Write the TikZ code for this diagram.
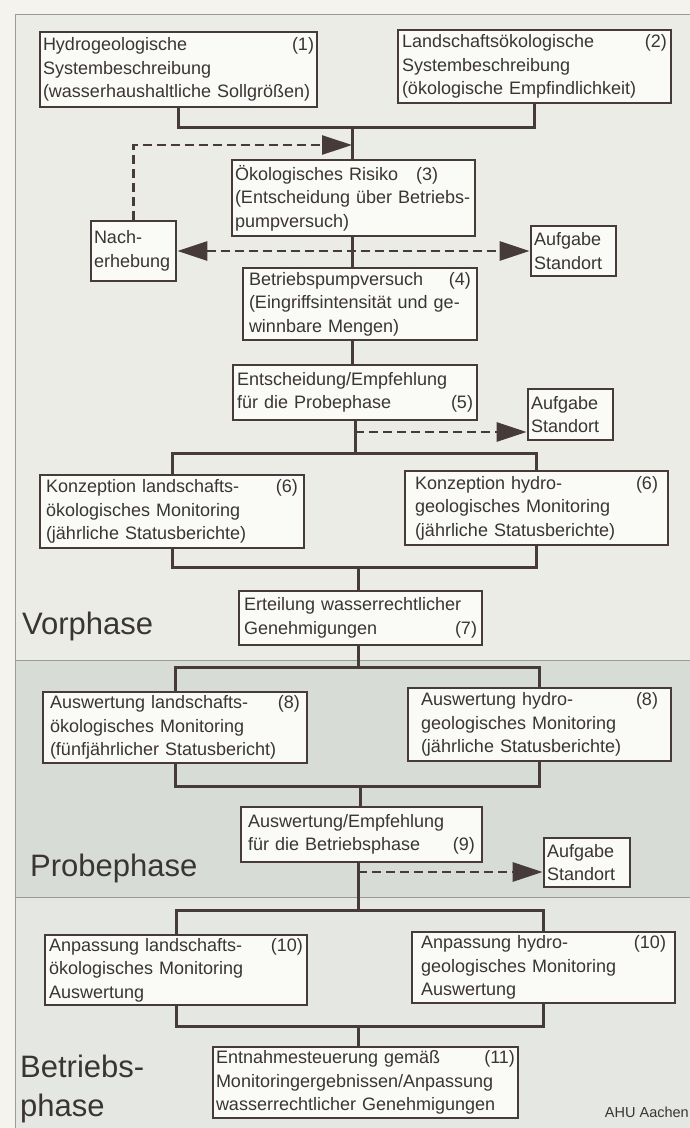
\documentclass[tikz,border=0pt]{standalone}
\usepackage{fontspec}
\setmainfont{Liberation Sans}
\usetikzlibrary{arrows.meta}

\definecolor{ink}{HTML}{463B3A}
\definecolor{txt}{HTML}{3A3535}
\definecolor{boxfill}{HTML}{FAFAF7}
\definecolor{pagebg}{HTML}{F5F3EE}
\definecolor{vorbg}{HTML}{ECECE6}
\definecolor{probebg}{HTML}{D8DCD6}
\definecolor{betrbg}{HTML}{E4E7E2}
\definecolor{framecol}{HTML}{9A9A96}

\begin{document}
\begin{tikzpicture}[x=1pt, y=-1pt,
	box/.style={draw=ink, line width=2.8pt, fill=boxfill, text=txt, align=left,
		inner xsep=3pt, inner ysep=2pt, font=\fontsize{18}{23.5}\selectfont},
	conn/.style={draw=ink, line width=3pt},
	dasharrow/.style={draw=ink, line width=2.8pt, dash pattern=on 9pt off 5pt, ->},
	phase/.style={text=txt, inner sep=0pt, font=\fontsize{31}{39}\selectfont},
	>={Triangle[length=30pt, width=19pt]}]
	\useasboundingbox (0,0) rectangle (690,1128);

	% background of the three phases
	\fill [pagebg] (0,0) rectangle (690,1128);
	\fill [vorbg] (15,14) rectangle (690,660);
	\fill [probebg] (15,660) rectangle (690,897);
	\fill [betrbg] (15,897) rectangle (690,1128);
	\draw [framecol, line width=1pt] (690,14) -- (15,14) -- (15,1128);
	\draw [framecol, line width=0.8pt] (15,660) -- (690,660) (15,897) -- (690,897);

	\node [phase, anchor=base west] (vor) at (22,634) {Vorphase};
	\node [phase, anchor=base west] (probe) at (30,876) {Probephase};
	\node [phase, anchor=north west, align=left] (betr) at (20,1055) {Betriebs-\\phase};
	\node [text=txt, anchor=base east, inner sep=0pt, font=\fontsize{14.5}{17}\selectfont] (ahu) at (689,1117) {AHU Aachen};

	% Vorphase
	\node [box, text width=271pt, minimum height=75pt] (b1) at (178.5,69.5)
		{Hydrogeologische\hfill(1)\\Systembeschreibung\\(wasserhaushaltliche Sollgrößen)};
	\node [box, text width=265pt, inner xsep=4pt, minimum height=73pt] (b2) at (534.5,66.5)
		{Landschaftsökologische\hfill(2)\\Systembeschreibung\\(ökologische Empfindlichkeit)};
	\node [box, text width=237pt, minimum height=76pt] (b3) at (353.5,198)
		{Ökologisches Risiko\hspace{18pt}(3)\\(Entscheidung über Betriebs-\\pumpversuch)};
	\node [box, text width=79pt, minimum height=60pt] (nach) at (133.5,251) {Nach-\\erhebung};
	\node [box, text width=79pt, minimum height=50pt] (auf1) at (573.5,251) {Aufgabe\\Standort};
	\node [box, text width=222pt, inner xsep=6pt, minimum height=72pt] (b4) at (360,304)
		{Betriebspumpversuch\hfill(4)\\(Eingriffsintensität und ge-\\winnbare Mengen)};
	\node [box, text width=236pt, inner xsep=4pt, minimum height=55pt] (b5) at (355,392.5)
		{Entscheidung/Empfehlung\\für die Probephase\hfill(5)};
	\node [box, text width=79pt, minimum height=51pt] (auf2) at (570.5,414.5) {Aufgabe\\Standort};
	\node [box, text width=252pt, inner xsep=6pt, minimum height=73pt] (b6a) at (172,511.5)
		{Konzeption landschafts-\hfill(6)\\ökologisches Monitoring\\(jährliche Statusberichte)};
	\node [box, text width=243pt, inner xsep=10pt, minimum height=74pt] (b6b) at (536.5,508)
		{Konzeption hydro-\hfill(6)\\geologisches Monitoring\\(jährliche Statusberichte)};
	\node [box, text width=233pt, inner xsep=5pt, minimum height=54pt] (b7) at (360.5,618)
		{Erteilung wasserrechtlicher\\Genehmigungen\hfill(7)};

	% Probephase
	\node [box, text width=250pt, inner xsep=7pt, minimum height=71pt] (b8a) at (175,727.5)
		{Auswertung landschafts-\hfill(8)\\ökologisches Monitoring\\(fünfjährlicher Statusbericht)};
	\node [box, text width=237pt, inner xsep=13pt, minimum height=73pt] (b8b) at (539.5,724.5)
		{Auswertung hydro-\hfill(8)\\geologisches Monitoring\\(jährliche Statusberichte)};
	\node [box, text width=227pt, inner xsep=7pt, minimum height=55pt] (b9) at (361.5,834.5)
		{Auswertung/Empfehlung\\für die Betriebsphase\hfill(9)};
	\node [box, text width=80pt, minimum height=49pt] (auf3) at (587,862.5) {Aufgabe\\Standort};

	% Betriebsphase
	\node [box, text width=254pt, inner xsep=4pt, minimum height=70pt] (b10a) at (176,970)
		{Anpassung landschafts-\hfill(10)\\ökologisches Monitoring\\Auswertung};
	\node [box, text width=245pt, inner xsep=9pt, minimum height=71pt] (b10b) at (543.5,967.5)
		{Anpassung hydro-\hfill(10)\\geologisches Monitoring\\Auswertung};
	\node [box, text width=299pt, minimum height=71pt] (b11) at (365.5,1082.5)
		{Entnahmesteuerung gemäß\hfill(11)\\Monitoringergebnissen/Anpassung\\wasserrechtlicher Genehmigungen};

	% connectors
	\coordinate (j1) at (352,127);
	\coordinate (j2) at (355,453);
	\coordinate (j3) at (358,567);
	\coordinate (j4) at (358,667);
	\coordinate (j5) at (360,786);
	\coordinate (j6) at (358,910);
	\coordinate (j7) at (358,1026);
	\draw [conn] (b1) |- (j1) -| (b2);
	\draw [conn] (j1) -- (j1 |- b3.north);
	\draw [conn] (j1 |- b3.south) -- (j1 |- b4.north);
	\draw [conn] (j1 |- b4.south) -- (j1 |- b5.north);
	\draw [conn] (j2 |- b5.south) -- (j2);
	\draw [conn] (b6a) |- (j2) -| (b6b);
	\draw [conn] (b6a) |- (j3) -| (b6b);
	\draw [conn] (j3) -- (j3 |- b7.north);
	\draw [conn] (j4 |- b7.south) -- (j4);
	\draw [conn] (b8a) |- (j4) -| (b8b);
	\draw [conn] (b8a) |- (j5) -| (b8b);
	\draw [conn] (j5) -- (j5 |- b9.north);
	\draw [conn] (j6 |- b9.south) -- (j6);
	\draw [conn] (b10a) |- (j6) -| (b10b);
	\draw [conn] (b10a) |- (j7) -| (b10b);
	\draw [conn] (j7) -- (j7 |- b11.north);

	% dashed arrows
	\coordinate (d1) at (352,145);
	\coordinate (d2) at (355,432);
	\coordinate (d3) at (358,872);
	\draw [dasharrow] (nach) |- (d1);
	\draw [dasharrow, <->] (nach) -- (auf1);
	\draw [dasharrow] (d2) -- (d2 -| auf2.west);
	\draw [dasharrow] (d3) -- (d3 -| auf3.west);
\end{tikzpicture}
\end{document}
